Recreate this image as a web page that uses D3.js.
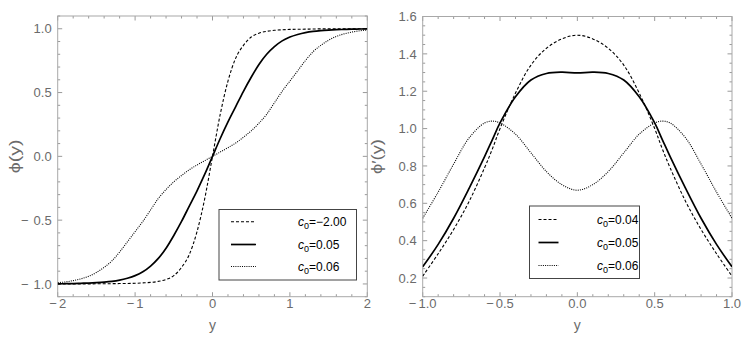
<!DOCTYPE html>
<html><head><meta charset="utf-8">
<script src="https://cdn.jsdelivr.net/npm/d3@7/dist/d3.min.js"></script>
<style>body{margin:0;background:#fff}svg{display:block}text{font-family:"Liberation Sans",Arial,sans-serif}</style>
</head><body>
<svg id="c" width="747" height="349"></svg>
<script>
// ---- Left panel data: phi(y) ----
const leftY = [-2,-1.9,-1.8,-1.7,-1.6,-1.5,-1.4,-1.3,-1.2,-1.1,-1,-0.9,-0.8,-0.7,-0.6,-0.5,-0.4,-0.3,-0.2,-0.1,0,
  0.1,0.2,0.3,0.4,0.5,0.6,0.7,0.8,0.9,1,1.1,1.2,1.3,1.4,1.5,1.6,1.7,1.8,1.9,2];
const leftDashed = [-1,-1,-1,-1,-1,-0.999,-0.999,-0.998,-0.997,-0.996,-0.995,-0.992,-0.988,-0.98,-0.965,-0.935,-0.87,-0.77,-0.59,-0.33,0,
  0.33,0.59,0.77,0.87,0.935,0.965,0.98,0.988,0.992,0.995,0.996,0.997,0.998,0.999,0.999,1,1,1,1,1];
const leftSolid = [-0.999,-0.998,-0.997,-0.995,-0.993,-0.99,-0.986,-0.98,-0.97,-0.955,-0.935,-0.905,-0.86,-0.8,-0.72,-0.62,-0.51,-0.39,-0.27,-0.14,0,
  0.14,0.27,0.39,0.51,0.62,0.72,0.8,0.86,0.905,0.935,0.955,0.97,0.98,0.986,0.99,0.993,0.995,0.997,0.998,0.999];
const leftDotted = [-0.99,-0.984,-0.974,-0.96,-0.94,-0.91,-0.87,-0.82,-0.75,-0.67,-0.59,-0.51,-0.42,-0.33,-0.26,-0.2,-0.15,-0.105,-0.068,-0.034,0,
  0.034,0.068,0.105,0.15,0.2,0.26,0.33,0.42,0.51,0.59,0.67,0.75,0.82,0.87,0.91,0.94,0.96,0.974,0.984,0.99];
const leftLabels = ["c0=\u22122.00","c0=0.05","c0=0.06"];

// ---- Right panel data: phi'(y) ----
const rightY = [-1,-0.9,-0.8,-0.7,-0.6,-0.55,-0.5,-0.4,-0.3,-0.2,-0.1,0,0.1,0.2,0.3,0.4,0.5,0.55,0.6,0.7,0.8,0.9,1];
const rightDashed = [0.21,0.33,0.46,0.61,0.79,0.89,1.0,1.19,1.34,1.43,1.48,1.5,1.48,1.43,1.34,1.19,1.0,0.89,0.79,0.61,0.46,0.33,0.21];
const rightSolid  = [0.26,0.38,0.52,0.68,0.85,0.94,1.03,1.17,1.26,1.295,1.302,1.298,1.302,1.295,1.26,1.17,1.03,0.94,0.85,0.68,0.52,0.38,0.26];
const rightDotted = [0.52,0.66,0.81,0.95,1.03,1.04,1.03,0.97,0.87,0.77,0.70,0.67,0.70,0.77,0.87,0.97,1.03,1.04,1.03,0.95,0.81,0.66,0.52];
const rightLabels = ["c0=0.04","c0=0.05","c0=0.06"];

const leftXTicks = [-2,-1,0,1,2];
const leftYTicks = [-1,-0.5,0,0.5,1];
const rightXTicks = [-1,-0.5,0,0.5,1];
const rightYTicks = [0.2,0.4,0.6,0.8,1.0,1.2,1.4,1.6];

const styles = [
  {dash:"3,2", w:1.1},
  {dash:null, w:1.7},
  {dash:"1,1.2", w:1.1}
];

const svg = d3.select("#c");
const tickColor = "#9a9a9a", labColor = "#6b6b6b";

function addNum(sel, str, gap){
  if(str[0]==="-"){
    sel.append("tspan").text("\u2212");
    sel.append("tspan").attr("dx",gap).text(str.slice(1));
  } else sel.text(str);
}

function panel(o){
  const x = d3.scaleLinear().domain(o.xd).range([o.x0,o.x1]);
  const y = d3.scaleLinear().domain(o.yd).range([o.y1,o.y0]);
  const g = svg.append("g");
  const clipId = "clip"+o.id;
  svg.append("clipPath").attr("id",clipId).append("rect")
    .attr("x",o.x0).attr("y",o.y0).attr("width",o.x1-o.x0).attr("height",o.y1-o.y0);
  const xMinor = d3.range(o.xd[0], o.xd[1]+1e-9, o.xMinorStep);
  const yMinor = d3.range(Math.ceil(o.yd[0]/o.yMinorStep-1e-9)*o.yMinorStep, o.yd[1]+1e-9, o.yMinorStep);
  const isMaj = (v,arr)=>arr.some(t=>Math.abs(t-v)<1e-6);
  xMinor.forEach(v=>{
    const L = isMaj(v,o.xt)?4.5:2.5, px=x(v);
    g.append("line").attr("x1",px).attr("x2",px).attr("y1",o.y1).attr("y2",o.y1-L).attr("stroke",tickColor);
    g.append("line").attr("x1",px).attr("x2",px).attr("y1",o.y0).attr("y2",o.y0+L).attr("stroke",tickColor);
  });
  yMinor.forEach(v=>{
    const L = isMaj(v,o.yt)?4.5:2.5, py=y(v);
    g.append("line").attr("y1",py).attr("y2",py).attr("x1",o.x0).attr("x2",o.x0+L).attr("stroke",tickColor);
    g.append("line").attr("y1",py).attr("y2",py).attr("x1",o.x1).attr("x2",o.x1-L).attr("stroke",tickColor);
  });
  g.append("rect").attr("x",o.x0).attr("y",o.y0).attr("width",o.x1-o.x0).attr("height",o.y1-o.y0)
    .attr("fill","none").attr("stroke","#a8a8a8").attr("stroke-width",1);
  o.xt.forEach(v=>{
    const t = g.append("text").attr("x",x(v)).attr("y",o.y1+11.5).attr("text-anchor","middle")
      .attr("font-size",13).attr("fill",labColor);
    addNum(t, o.xfmt(v), 2);
  });
  o.yt.forEach(v=>{
    const t = g.append("text").attr("x",o.x0-6).attr("y",y(v)).attr("dy","0.36em").attr("text-anchor","end")
      .attr("font-size",13).attr("fill",labColor);
    addNum(t, o.yfmt(v), 5);
  });
  g.append("text").attr("x",(o.x0+o.x1)/2).attr("y",329.5).attr("text-anchor","middle")
    .attr("font-size",14).attr("fill",labColor).text("y");
  g.append("text").attr("transform",`translate(${o.ylabX},${(o.y0+o.y1)/2}) rotate(-90)`)
    .attr("text-anchor","middle").attr("dy","0.35em").attr("font-size",15).attr("fill",labColor)
    .attr("textLength",o.ylabLen).attr("lengthAdjust","spacingAndGlyphs").text(o.ylab);
  const line = d3.line().x(d=>x(d[0])).y(d=>y(d[1])).curve(o.curve);
  o.series.forEach((s,i)=>{
    const data = o.xs.map((xv,k)=>[xv,s[k]]);
    const p = g.append("path").attr("d",line(data)).attr("fill","none").attr("stroke","#000")
      .attr("stroke-width",styles[i].w).attr("clip-path",`url(#${clipId})`);
    if(styles[i].dash) p.attr("stroke-dasharray",styles[i].dash);
  });
  const L = o.leg;
  g.append("rect").attr("x",L.x).attr("y",L.y).attr("width",L.w).attr("height",L.h)
    .attr("fill","#fff").attr("stroke","#444").attr("stroke-width",1);
  o.labels.forEach((lab,i)=>{
    const ry = L.rows[i];
    const p = g.append("line").attr("x1",L.sx0).attr("x2",L.sx1).attr("y1",ry).attr("y2",ry)
      .attr("stroke","#000").attr("stroke-width",styles[i].w);
    if(styles[i].dash) p.attr("stroke-dasharray",styles[i].dash);
    const t = g.append("text").attr("x",L.tx).attr("y",ry).attr("dy","0.35em").attr("font-size",12).attr("fill","#000");
    t.append("tspan").attr("font-style","italic").text("c");
    t.append("tspan").attr("font-size",9).attr("dy","3").text("0");
    t.append("tspan").attr("dy","-3").text(lab.slice(2));
  });
}

panel({id:"L", x0:57.7, x1:367.3, y0:16, y1:296.7, xd:[-2,2], yd:[-1.1,1.1],
  xt:leftXTicks, yt:leftYTicks, xMinorStep:0.2, yMinorStep:0.1,
  xfmt:v=>d3.format("d")(v).replace("\u2212","-"), yfmt:v=>d3.format(".1f")(v).replace("\u2212","-"),
  ylab:"\u03D5(y)", ylabX:15, ylabLen:34,
  xs:leftY, series:[leftDashed,leftSolid,leftDotted], labels:leftLabels, curve:d3.curveMonotoneX,
  leg:{x:219, y:209.5, w:137.5, h:70.5, rows:[221.7,244.5,266.5], sx0:231, sx1:256, tx:298}
});
panel({id:"R", x0:422.7, x1:732, y0:16.5, y1:296.7, xd:[-1,1], yd:[0.1,1.6],
  xt:rightXTicks, yt:rightYTicks, xMinorStep:0.1, yMinorStep:0.05,
  xfmt:v=>d3.format(".1f")(v).replace("\u2212","-"), yfmt:v=>d3.format(".1f")(v),
  ylab:"\u03D5\u2032(y)", ylabX:377, ylabLen:35,
  xs:rightY, series:[rightDashed,rightSolid,rightDotted], labels:rightLabels, curve:d3.curveCatmullRom.alpha(0.5),
  leg:{x:529.5, y:206, w:110, h:72.5, rows:[219.5,242.5,265.5], sx0:538.5, sx1:558.5, tx:597}
});
</script>
</body></html>
